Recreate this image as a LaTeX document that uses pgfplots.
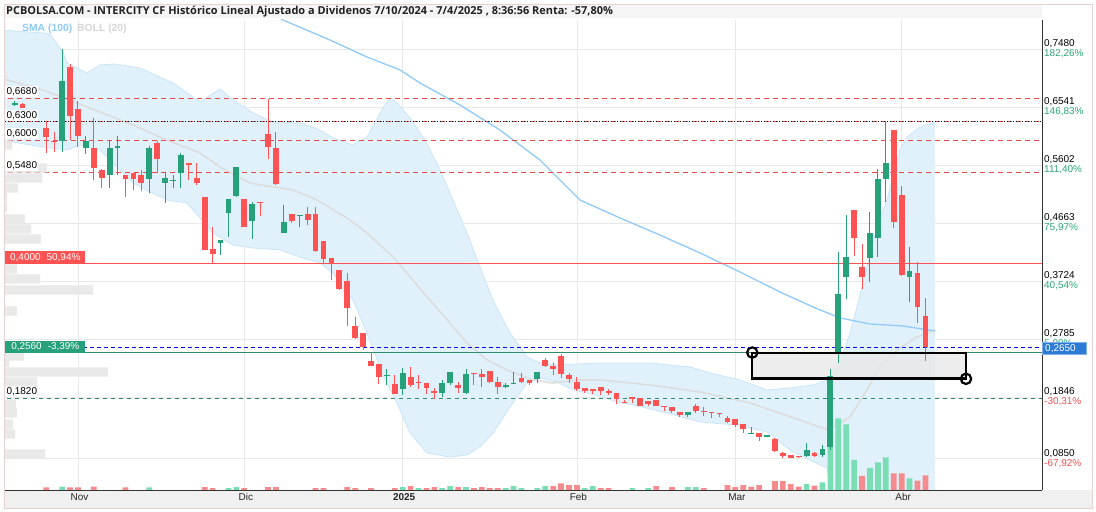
\documentclass[border=0pt]{standalone}
\usepackage{pgfplots}
\pgfplotsset{compat=1.18}
\usepackage{pgfplotstable}
\usepackage{fontspec}
\setmainfont{Liberation Sans}
\newfontfamily\titlefont{Open Sans}
\definecolor{upc}{HTML}{27A17A}
\definecolor{dnc}{HTML}{FF5252}
\definecolor{volg}{HTML}{7ADDB4}
\definecolor{volr}{HTML}{F68B8E}
\definecolor{bandf}{HTML}{E1F1FC}
\definecolor{bandl}{HTML}{C9E5F8}
\definecolor{midc}{HTML}{DDDDDD}
\definecolor{smac}{HTML}{90CAF9}
\definecolor{gridc}{HTML}{E8E8E8}
\definecolor{profc}{HTML}{E9E9E9}
\definecolor{posc}{HTML}{2AA876}
\definecolor{negc}{HTML}{F05252}
\definecolor{lineg}{HTML}{2E8B6E}
\definecolor{boxg}{HTML}{26A17B}
\definecolor{blueb}{HTML}{2B7BD6}
\definecolor{framec}{HTML}{E6D2D2}

\pgfplotstableread{
i o h l c
-8 0.657 0.663 0.655 0.660
-2 0.5995 0.748 0.5817 0.6962
1 0.5882 0.6071 0.5780 0.5990
4 0.5439 0.5995 0.5223 0.5871
5 0.5882 0.6071 0.5439 0.5909
9 0.5369 0.5909 0.5142 0.5871
11 0.5315 0.5466 0.4991 0.5385
12 0.5345 0.5439 0.5223 0.5350
13 0.5478 0.5790 0.5223 0.5764
18 0.4343 0.4386 0.4145 0.4386
19 0.4818 0.5045 0.4429 0.5045
20 0.5099 0.5575 0.5089 0.5563
22 0.4699 0.5007 0.4397 0.4969
26 0.4505 0.4953 0.4494 0.4672
28 0.4780 0.4791 0.4591 0.4785
39 0.2200 0.2291 0.2037 0.2205
41 0.1983 0.2307 0.1875 0.2242
46 0.1904 0.2120 0.1839 0.2066
47 0.2077 0.2244 0.2039 0.2244
49 0.1915 0.2293 0.1893 0.2212
54 0.2001 0.2066 0.1985 0.2039
55 0.2066 0.2244 0.2050 0.2077
58 0.2131 0.2244 0.2077 0.2244
77 0.1554 0.1608 0.1516 0.1608
85 0.1255 0.1354 0.1240 0.1258
87 0.1203 0.1230 0.1192 0.1230
92 0.0890 0.1095 0.0879 0.0987
94 0.0906 0.1068 0.0879 0.0998
95 0.1029 0.2293 0.0986 0.2185
96 0.2553 0.4198 0.2401 0.3513
97 0.3794 0.4792 0.3427 0.4117
100 0.4101 0.4835 0.3713 0.4495
101 0.4425 0.5537 0.4117 0.5375
102 0.5375 0.6300 0.5008 0.5639
105 0.3794 0.4279 0.3389 0.3885
}\upcandles

\pgfplotstableread{
i o h l c
-7 0.659 0.660 0.652 0.652
-4 0.6196 0.6303 0.5791 0.6050
-3 0.5995 0.6141 0.5817 0.5968
-1 0.7183 0.7237 0.6006 0.6400
0 0.6503 0.6643 0.5898 0.6071
2 0.5871 0.6357 0.5358 0.5558
3 0.5520 0.5530 0.5223 0.5396
6 0.5434 0.5434 0.5077 0.5369
7 0.5466 0.5466 0.5196 0.5369
8 0.5434 0.5520 0.5180 0.5315
10 0.5963 0.5995 0.5466 0.5693
14 0.5629 0.5629 0.5358 0.5602
15 0.5385 0.5629 0.5277 0.5315
16 0.5089 0.5089 0.4224 0.4224
17 0.4235 0.4602 0.3999 0.4156
21 0.5045 0.5045 0.4591 0.4602
23 0.5002 0.5002 0.4780 0.4980
24 0.6104 0.6665 0.5693 0.5899
25 0.5871 0.6141 0.5277 0.5294
27 0.4807 0.4807 0.4656 0.4699
29 0.4807 0.4926 0.4629 0.4710
30 0.4807 0.4926 0.4197 0.4208
31 0.4370 0.4370 0.3999 0.4080
32 0.4102 0.4102 0.3740 0.3994
33 0.3902 0.3902 0.3578 0.3589
34 0.3724 0.3859 0.3000 0.3292
35 0.3000 0.3147 0.2790 0.2796
36 0.2877 0.2877 0.2606 0.2661
37 0.2429 0.2579 0.2348 0.2348
38 0.2380 0.2380 0.2064 0.2175
40 0.2064 0.2200 0.1890 0.1902
42 0.2163 0.2336 0.2012 0.2039
43 0.2082 0.2201 0.1969 0.2077
44 0.2066 0.2066 0.1893 0.1985
45 0.1942 0.1998 0.1807 0.1904
48 0.2039 0.2093 0.1904 0.1996
50 0.2228 0.2228 0.2039 0.2217
51 0.2217 0.2293 0.2012 0.2174
52 0.2266 0.2266 0.2077 0.2093
53 0.2093 0.2163 0.1893 0.2012
56 0.2147 0.2228 0.2077 0.2093
57 0.2120 0.2120 0.2039 0.2066
59 0.2444 0.2482 0.2336 0.2352
60 0.2347 0.2390 0.2201 0.2304
61 0.2509 0.2541 0.2147 0.2212
62 0.2201 0.2228 0.2077 0.2136
63 0.2093 0.2163 0.1948 0.1969
64 0.1985 0.1985 0.1904 0.1948
65 0.1975 0.1975 0.1893 0.1948
66 0.2001 0.2001 0.1877 0.1948
67 0.1948 0.1969 0.1877 0.1904
68 0.1904 0.1904 0.1726 0.1807
69 0.1770 0.1796 0.1743 0.1759
70 0.1839 0.1839 0.1743 0.1807
71 0.1823 0.1823 0.1700 0.1705
72 0.1780 0.1780 0.1700 0.1726
73 0.1796 0.1796 0.1700 0.1705
74 0.1700 0.1700 0.1618 0.1695
75 0.1678 0.1678 0.1581 0.1624
76 0.1608 0.1608 0.1516 0.1554
78 0.1700 0.1732 0.1591 0.1624
79 0.1610 0.1689 0.1537 0.1605
80 0.1600 0.1600 0.1500 0.1597
81 0.1580 0.1581 0.1516 0.1575
82 0.1500 0.1537 0.1419 0.1446
83 0.1483 0.1483 0.1365 0.1392
84 0.1408 0.1408 0.1267 0.1321
86 0.1257 0.1257 0.1138 0.1203
88 0.1159 0.1175 0.0959 0.0976
89 0.0933 0.0959 0.0852 0.0890
90 0.0906 0.0906 0.0850 0.0863
91 0.0890 0.0890 0.0850 0.0885
93 0.0933 0.0959 0.0879 0.0890
98 0.4873 0.4873 0.4134 0.4414
99 0.3945 0.4323 0.3588 0.3794
103 0.6168 0.6168 0.4587 0.4684
104 0.5116 0.5262 0.3810 0.3821
106 0.3858 0.4026 0.3049 0.3308
107 0.3157 0.3443 0.2428 0.2650
}\dncandles

\pgfplotstableread{
i v
-2 3.3
9 2.7
19 2
20 3
41 3
43 2
46 2
47 4
49 3
54 2
55 4
56 2
58 2
59 4
64 2
65 4
70 2
72 2
77 3
78 3
92 6
94 7.7
95 75
96 71.7
97 65.7
98 30
100 22
101 27.7
102 32.7
105 11.7
}\volup

\pgfplotstableread{
i v
-4 2.7
-1 2.7
0 2.7
2 3.3
6 2.7
16 3
17 2
21 2
24 3
25 3
30 2
31 2
34 3
35 2
37 2
40 2
42 4
44 2
45 3
48 3
50 2
51 3
52 2
53 2
60 4
61 6.7
62 5
63 5
66 2
67 2
73 4
75 3
79 2
82 5
83 3
84 5
85 3.3
86 5
88 9
89 9
90 6
91 3.3
93 4.3
99 14
103 16.7
104 16.7
106 9.3
107 14.7
}\voldn

\pgfplotstableread{
len p
3 0.7059
3 0.6897
8 0.5926
43 0.5553
38 0.5391
14 0.5229
3 0.5084
3 0.4922
21 0.4727
27 0.4565
37 0.4404
13 0.3918
36 0.3756
89 0.3578
13 0.3238
20 0.2509
5 0.2412
104 0.2251
33 0.2089
12 0.1732
13 0.1587
9 0.1408
11 0.1246
41 0.0923
}\profile

\pgfplotsset{
  chartax/.style={at={(4bp,22bp)}, anchor=south west, width=1038bp, height=470bp,
    scale only axis, xmin=-9.34, xmax=121.72},
  pricey/.style={ymin=0.0340, ymax=0.7949},
  wick/.style={draw=none, mark=none, forget plot,
    error bars/.cd, y dir=plus, y explicit, error mark=none,
    error bar style={line width=1bp, draw=#1, solid}},
  body/.style={draw=none, mark=none, forget plot,
    error bars/.cd, y dir=plus, y explicit, error mark=none,
    error bar style={line width=5.8bp, draw=#1, fill=none, solid}},
}

\begin{document}
\begin{tikzpicture}
\useasboundingbox (0,0) rectangle (1096bp,512bp);
\fill[white] (0,0) rectangle (1096bp,512bp);
\fill[black!4] (4bp,494bp) rectangle (1042bp,508bp);
\fill[black!6] (4bp,4bp) rectangle (1092bp,22bp);

% ---------- main axis: grid, bands, lines, ticks
\begin{axis}[chartax, pricey,
  axis x line*=bottom, axis y line*=right,
  axis line style={draw=black!80, line width=0.9bp},
  xtick={0,21,41,63,83,104},
  xticklabels={Nov,Dic,\textbf{2025},Feb,Mar,Abr},
  ytick={0.0850,0.1846,0.2785,0.3724,0.4663,0.5602,0.6541,0.7480},
  yticklabels={
    {0,0850\\\textcolor{negc}{-67,92\%}},
    {0,1846\\\textcolor{negc}{-30,31\%}},
    {0,2785\\\textcolor{posc}{5,09\%}},
    {0,3724\\\textcolor{posc}{40,54\%}},
    {0,4663\\\textcolor{posc}{75,97\%}},
    {0,5602\\\textcolor{posc}{111,40\%}},
    {0,6541\\\textcolor{posc}{146,83\%}},
    {0,7480\\\textcolor{posc}{182,26\%}}},
  major tick length=0pt,
  grid=major, major grid style={draw=gridc, line width=0.7bp},
  yticklabel style={anchor=west, align=left, inner sep=0pt, xshift=2bp,
    font=\fontsize{10}{10.4}\selectfont, text=black},
  xticklabel style={font=\fontsize{10}{12}\selectfont, text=black!85, inner sep=0pt, yshift=-3.5bp, xshift=1.5bp},
]
% Bollinger band fill
\addplot[fill=bandf, draw=none, forget plot] coordinates {
(-9.85,0.7787) (-4.42,0.7739) (-3.54,0.7723) (-1.89,0.7431) (-1.39,0.7253) (1.14,0.7091) (2.78,0.7221) (4.67,0.7237) (7.83,0.7172) (12.0,0.6929) (15.40,0.6622) (17.93,0.6832) (19.57,0.6654) (22.10,0.6444) (24.62,0.6298) (28.03,0.6282) (30.56,0.6168) (32.20,0.6039) (34.72,0.5926) (36.49,0.6055) (38.51,0.6524) (39.39,0.6686) (40.40,0.6589) (41.92,0.6363) (43.81,0.6006) (45.71,0.5521) (47.35,0.5035) (49.12,0.4501) (50.76,0.3950) (52.40,0.3416) (54.55,0.2882) (56.69,0.2493) (58.33,0.2396) (60.86,0.2364) (63.01,0.2380) (65.91,0.2396) (72.22,0.2396) (77.27,0.2331) (79.80,0.2234) (83.59,0.2121) (87.0,0.1959) (89.90,0.1991) (92.80,0.2040) (94.70,0.2121) (96.21,0.2396) (97.47,0.2882) (98.36,0.3303) (99.62,0.3950) (100.88,0.4598) (102.15,0.5035) (103.79,0.5845) (104.67,0.6055) (106.31,0.6217) (108.21,0.6298)
(108.21,-0.095) (96.21,-0.055) (94.57,0.0696) (92.42,0.0826) (89.90,0.0988) (87.0,0.1279) (83.21,0.1392) (78.54,0.1441) (74.37,0.1587) (70.08,0.1716) (68.06,0.1765) (65.91,0.1862) (62.50,0.1959) (60.48,0.2088) (58.33,0.2153) (56.69,0.2072) (54.55,0.1684) (52.40,0.1263) (50.76,0.1036) (49.12,0.0907) (46.97,0.0874) (44.07,0.0939) (41.92,0.1263) (40.28,0.1749) (38.51,0.2202) (36.49,0.2882) (34.72,0.3416) (32.20,0.3853) (30.56,0.4015) (28.03,0.4112) (25.51,0.4226) (22.10,0.4258) (19.57,0.4306) (17.05,0.4501) (13.76,0.4987) (11.24,0.5035) (9.09,0.5165) (6.94,0.5310) (2.78,0.5845) (0.25,0.5926) (-1.39,0.5845) (-4.42,0.5893) (-9.85,0.6006)
} --cycle;
% upper band line
\addplot[bandl, line width=0.8bp, forget plot] coordinates {
(-9.85,0.7787) (-4.42,0.7739) (-3.54,0.7723) (-1.89,0.7431) (-1.39,0.7253) (1.14,0.7091) (2.78,0.7221) (4.67,0.7237) (7.83,0.7172) (12.0,0.6929) (15.40,0.6622) (17.93,0.6832) (19.57,0.6654) (22.10,0.6444) (24.62,0.6298) (28.03,0.6282) (30.56,0.6168) (32.20,0.6039) (34.72,0.5926) (36.49,0.6055) (38.51,0.6524) (39.39,0.6686) (40.40,0.6589) (41.92,0.6363) (43.81,0.6006) (45.71,0.5521) (47.35,0.5035) (49.12,0.4501) (50.76,0.3950) (52.40,0.3416) (54.55,0.2882) (56.69,0.2493) (58.33,0.2396) (60.86,0.2364) (63.01,0.2380) (65.91,0.2396) (72.22,0.2396) (77.27,0.2331) (79.80,0.2234) (83.59,0.2121) (87.0,0.1959) (89.90,0.1991) (92.80,0.2040) (94.70,0.2121) (96.21,0.2396) (97.47,0.2882) (98.36,0.3303) (99.62,0.3950) (100.88,0.4598) (102.15,0.5035) (103.79,0.5845) (104.67,0.6055) (106.31,0.6217) (108.21,0.6298)};
% lower band line
\addplot[bandl, line width=0.8bp, forget plot] coordinates {
(108.21,-0.095) (96.21,-0.055) (94.57,0.0696) (92.42,0.0826) (89.90,0.0988) (87.0,0.1279) (83.21,0.1392) (78.54,0.1441) (74.37,0.1587) (70.08,0.1716) (68.06,0.1765) (65.91,0.1862) (62.50,0.1959) (60.48,0.2088) (58.33,0.2153) (56.69,0.2072) (54.55,0.1684) (52.40,0.1263) (50.76,0.1036) (49.12,0.0907) (46.97,0.0874) (44.07,0.0939) (41.92,0.1263) (40.28,0.1749) (38.51,0.2202) (36.49,0.2882) (34.72,0.3416) (32.20,0.3853) (30.56,0.4015) (28.03,0.4112) (25.51,0.4226) (22.10,0.4258) (19.57,0.4306) (17.05,0.4501) (13.76,0.4987) (11.24,0.5035) (9.09,0.5165) (6.94,0.5310) (2.78,0.5845) (0.25,0.5926) (-1.39,0.5845) (-4.42,0.5893) (-9.85,0.6006)};
% Bollinger middle
\addplot[midc, line width=1.6bp, forget plot] coordinates {
(-9.85,0.7010) (-4.42,0.6816) (1.14,0.6541) (6.94,0.6249) (11.24,0.6006) (15.40,0.5796) (17.93,0.5569) (21.72,0.5310) (23.86,0.5262) (27.15,0.5197) (30.18,0.5035) (34.34,0.4711) (36.49,0.4501) (39.77,0.4112) (41.54,0.3853) (44.07,0.3465) (46.97,0.3044) (49.12,0.2720) (51.64,0.2445) (54.17,0.2283) (57.45,0.2121) (59.97,0.2072) (63.01,0.2121) (65.91,0.2121) (72.22,0.2040) (78.54,0.1927) (84.85,0.1749) (91.16,0.1473) (94.70,0.1312) (97.47,0.1522) (99.62,0.1959) (101.26,0.2331) (103.41,0.2607) (105.93,0.2817) (108.21,0.2930)};
% SMA 100
\addplot[smac, line width=1.3bp, forget plot] coordinates {
(24.24,0.8079) (25.88,0.7949) (31.82,0.7625) (36.49,0.7350) (40.66,0.7140) (43.18,0.6929) (48.23,0.6573) (53.28,0.6168) (58.33,0.5683) (63.38,0.5035) (68.43,0.4744) (73.48,0.4468) (78.54,0.4177) (83.59,0.3869) (88.64,0.3546) (92.80,0.3303) (96.21,0.3125) (100.0,0.3028) (104.17,0.2995) (108.21,0.2914)};
% horizontal levels
\addplot[dnc!90!black, line width=0.9bp, dash pattern=on 5bp off 4bp, forget plot] coordinates {(-10,0.668) (125,0.668)};
\addplot[dnc!90!black, line width=0.9bp, dash pattern=on 5bp off 4bp, forget plot] coordinates {(-10,0.630) (125,0.630)};
\addplot[black, line width=1bp, dash pattern=on 1.4bp off 1.6bp, forget plot] coordinates {(-10,0.630) (125,0.630)};
\addplot[dnc!90!black, line width=0.9bp, dash pattern=on 5bp off 4bp, forget plot] coordinates {(-10,0.600) (125,0.600)};
\addplot[dnc!90!black, line width=0.9bp, dash pattern=on 5bp off 4bp, forget plot] coordinates {(-10,0.548) (125,0.548)};
\addplot[dnc, line width=1bp, forget plot] coordinates {(-10,0.400) (125,0.400)};
\addplot[lineg, line width=1.2bp, forget plot] coordinates {(-10,0.256) (125,0.256)};
\addplot[blue, line width=1bp, dash pattern=on 4bp off 3bp, forget plot] coordinates {(-10,0.265) (125,0.265)};
\addplot[lineg, line width=0.9bp, dash pattern=on 4bp off 4bp, forget plot] coordinates {(-10,0.182) (125,0.182)};
\end{axis}

% ---------- volume
\begin{axis}[chartax, ymin=0, ymax=470, hide axis]
\addplot[ybar, bar shift=0pt, bar width=0.72, fill=volg, draw=none] table[x=i, y=v] {\volup};
\addplot[ybar, bar shift=0pt, bar width=0.72, fill=volr, draw=none] table[x=i, y=v] {\voldn};
\end{axis}

% ---------- volume profile
\begin{axis}[chartax, xmin=0, xmax=1038, pricey, hide axis]
\addplot[xbar, bar shift=0pt, bar width=0.0148, fill=profc, draw=none] table[x=len, y=p] {\profile};
\end{axis}

% ---------- candles and annotations
\begin{axis}[chartax, pricey, hide axis]
\addplot[fill=black!9, fill opacity=0.75, draw=none, forget plot] coordinates {(85.14,0.2560) (112.12,0.2560) (112.12,0.2148) (85.14,0.2148)} --cycle;
\addplot[wick=upc] table[x=i, y=l, y error plus expr={\thisrow{h}-\thisrow{l}}] {\upcandles};
\addplot[wick=dnc] table[x=i, y=l, y error plus expr={\thisrow{h}-\thisrow{l}}] {\dncandles};
\addplot[body=upc] table[x=i, y expr={min(\thisrow{o},\thisrow{c})}, y error plus expr={max(abs(\thisrow{c}-\thisrow{o}),0.0009)}] {\upcandles};
\addplot[body=dnc] table[x=i, y expr={min(\thisrow{o},\thisrow{c})}, y error plus expr={max(abs(\thisrow{c}-\thisrow{o}),0.0009)}] {\dncandles};
\addplot[draw=black, line width=2.4bp, fill=none, forget plot] coordinates {(85.14,0.2560) (112.12,0.2560) (112.12,0.2148) (85.14,0.2148)} --cycle;
\addplot[only marks, mark=o, mark size=5.2bp, mark options={draw=black, line width=2.2bp}, forget plot] coordinates {(85.14,0.2565) (112.12,0.2140)};
% left labels
\node[anchor=south west, fill=white, inner sep=1.3bp, font=\fontsize{10}{10}\selectfont] at (axis cs:-9.2,0.6695) {0,6680};
\node[anchor=south west, fill=white, inner sep=1.3bp, font=\fontsize{10}{10}\selectfont] at (axis cs:-9.2,0.6315) {0,6300};
\node[anchor=south west, fill=white, inner sep=1.3bp, font=\fontsize{10}{10}\selectfont] at (axis cs:-9.2,0.6015) {0,6000};
\node[anchor=south west, fill=white, inner sep=1.3bp, font=\fontsize{10}{10}\selectfont] at (axis cs:-9.2,0.5495) {0,5480};
\node[anchor=south west, fill=white, inner sep=1.3bp, font=\fontsize{10}{10}\selectfont] at (axis cs:-9.2,0.1835) {0,1820};
\node[anchor=south west, fill=dnc, text=white, inner sep=0pt, minimum width=80bp, minimum height=13bp, font=\fontsize{10}{10}\selectfont] at (axis cs:-9.2,0.400) {0,4000\hspace{6bp}50,94\%};
\node[anchor=south west, fill=boxg, text=white, inner sep=0pt, minimum width=80bp, minimum height=11.5bp, font=\fontsize{10}{10}\selectfont] at (axis cs:-9.2,0.256) {0,2560\hspace{6bp}-3,39\%};
\end{axis}

% right price marker
\fill[blueb] (1042.7bp,157.7bp) rectangle (1086.7bp,169.3bp);
\draw[blueb!60!white, line width=0.6bp] (1042.7bp,157.7bp) rectangle (1086.7bp,169.3bp);
\node[anchor=west, text=white, inner sep=0pt, font=\fontsize{10}{10}\selectfont] at (1045bp,163.5bp) {0,2650};

% legend
\node[anchor=west, inner sep=0pt, text=smac, font=\fontsize{10.4}{11}\selectfont\bfseries] at (22bp,483bp) {SMA (100)};
\node[anchor=west, inner sep=0pt, text=black!16, font=\fontsize{10.4}{11}\selectfont\bfseries] at (77bp,483bp) {BOLL (20)};

% title
\node[anchor=west, inner sep=0pt, text=black!87, font=\titlefont\bfseries\fontsize{11}{13}\selectfont] at (6bp,500.5bp) {PCBOLSA.COM - INTERCITY CF Histórico Lineal Ajustado a Dividenos 7/10/2024 - 7/4/2025 , 8:36:56 Renta: -57,80\%};

% frame
\draw[framec, line width=0.8bp] (4bp,4bp) rectangle (1092bp,508bp);
\end{tikzpicture}
\end{document}
